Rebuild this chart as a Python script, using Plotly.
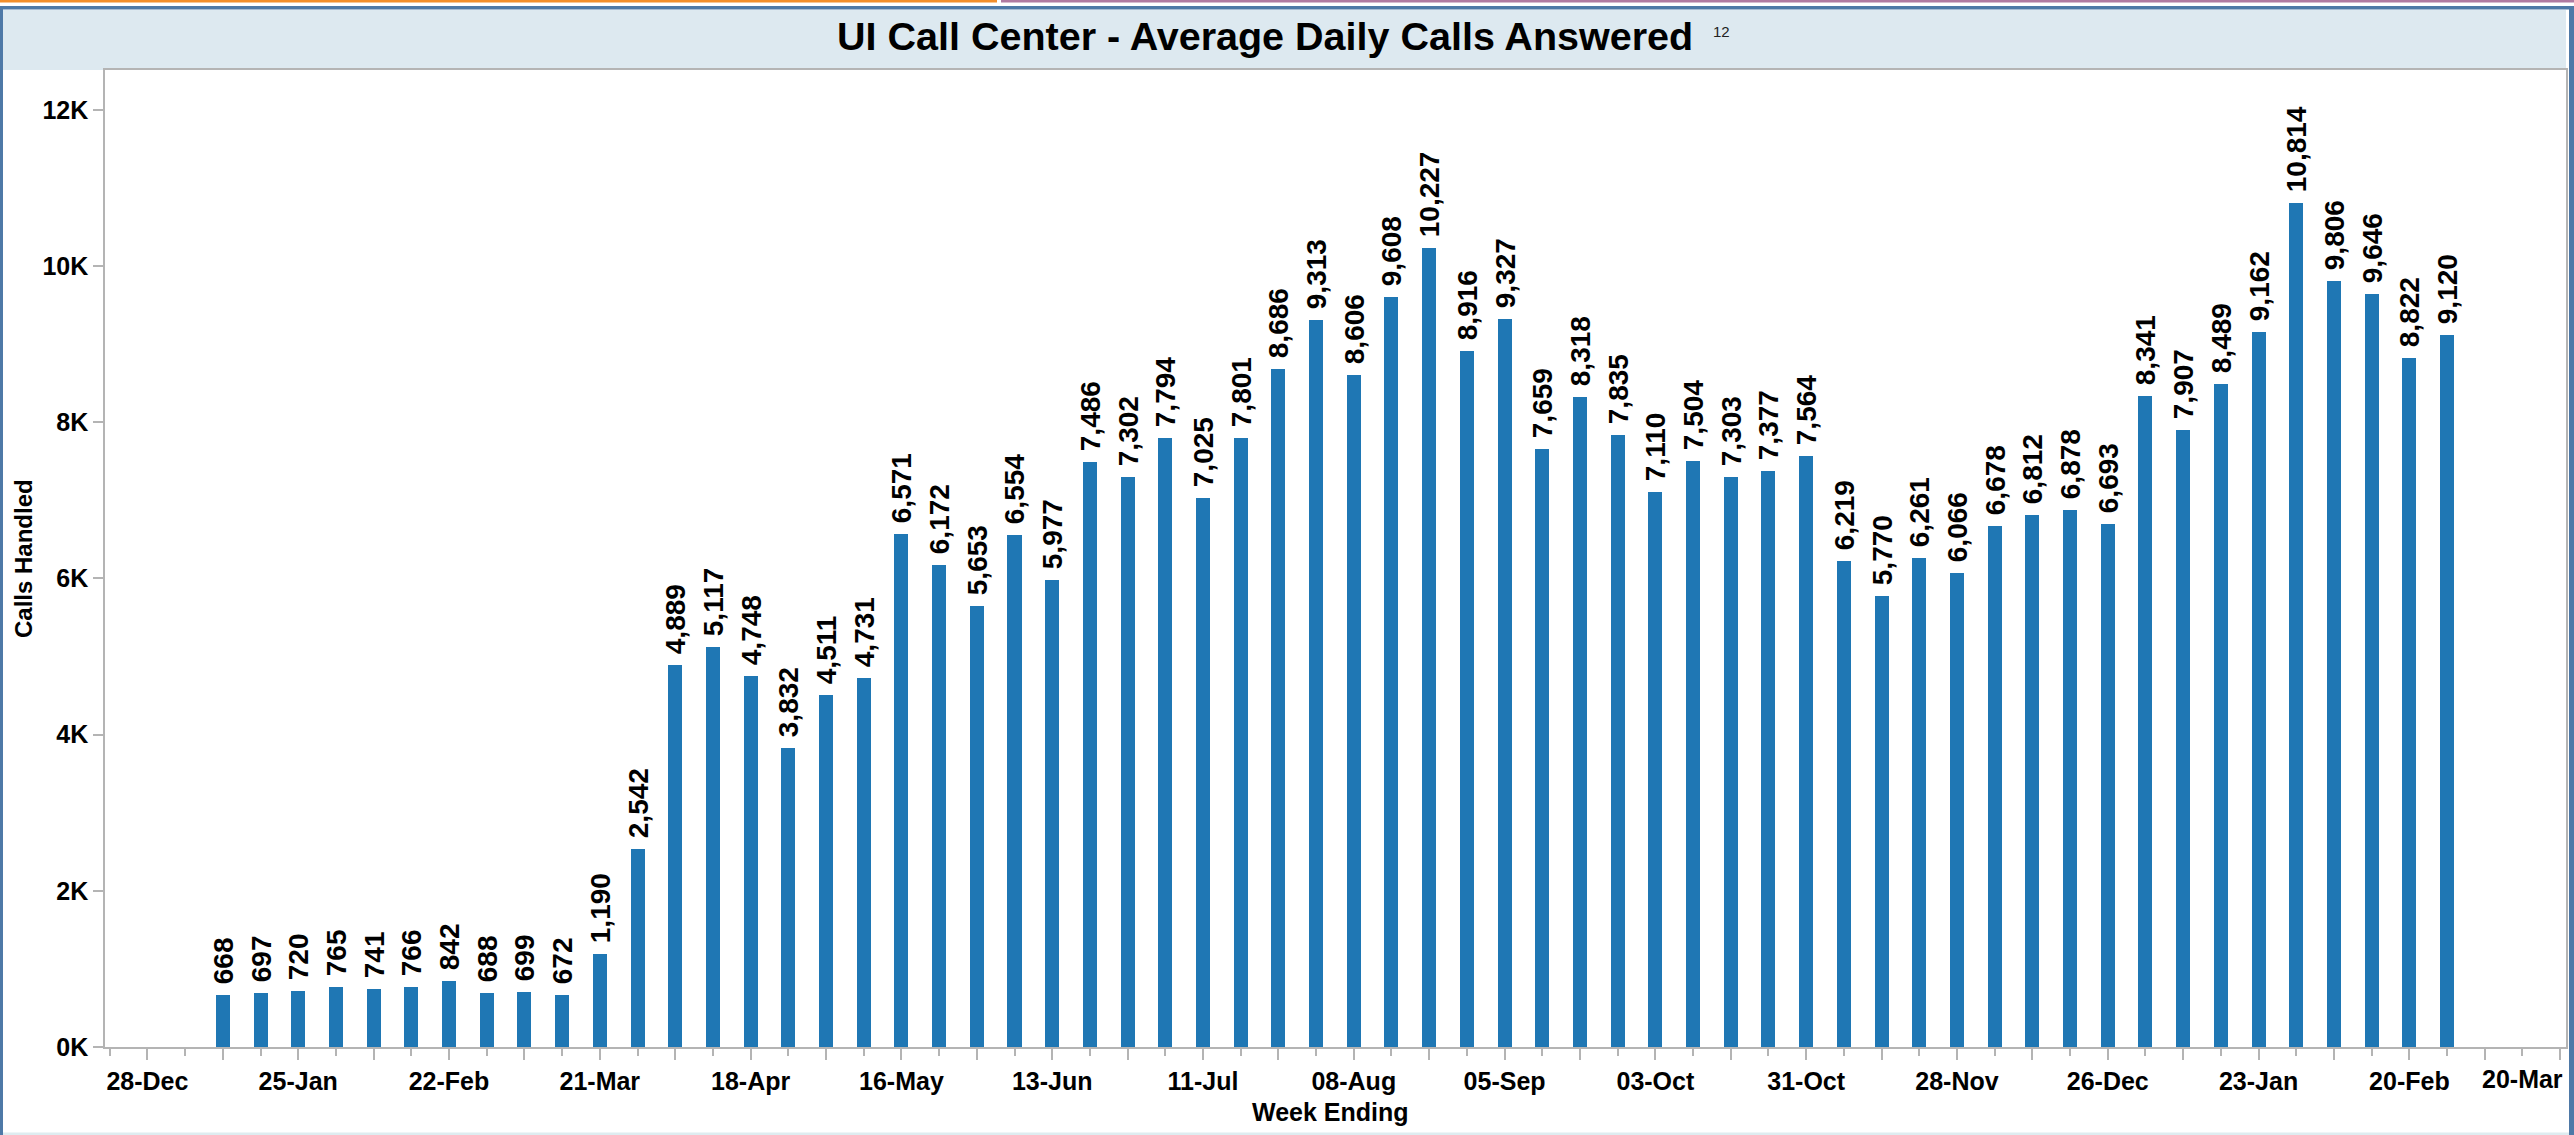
import plotly.graph_objects as go

# ---------------- data ----------------
WEEK_ENDING = [
    "2020-01-11", "2020-01-18", "2020-01-25", "2020-02-01", "2020-02-08", "2020-02-15",
    "2020-02-22", "2020-02-29", "2020-03-07", "2020-03-14", "2020-03-21", "2020-03-28",
    "2020-04-04", "2020-04-11", "2020-04-18", "2020-04-25", "2020-05-02", "2020-05-09",
    "2020-05-16", "2020-05-23", "2020-05-30", "2020-06-06", "2020-06-13", "2020-06-20",
    "2020-06-27", "2020-07-04", "2020-07-11", "2020-07-18", "2020-07-25", "2020-08-01",
    "2020-08-08", "2020-08-15", "2020-08-22", "2020-08-29", "2020-09-05", "2020-09-12",
    "2020-09-19", "2020-09-26", "2020-10-03", "2020-10-10", "2020-10-17", "2020-10-24",
    "2020-10-31", "2020-11-07", "2020-11-14", "2020-11-21", "2020-11-28", "2020-12-05",
    "2020-12-12", "2020-12-19", "2020-12-26", "2021-01-02", "2021-01-09", "2021-01-16",
    "2021-01-23", "2021-01-30", "2021-02-06", "2021-02-13", "2021-02-20", "2021-02-27",
]
CALLS_HANDLED = [
    668, 697, 720, 765, 741, 766, 842, 688, 699, 672, 1190, 2542,
    4889, 5117, 4748, 3832, 4511, 4731, 6571, 6172, 5653, 6554, 5977, 7486,
    7302, 7794, 7025, 7801, 8686, 9313, 8606, 9608, 10227, 8916, 9327, 7659,
    8318, 7835, 7110, 7504, 7303, 7377, 7564, 6219, 5770, 6261, 6066, 6678,
    6812, 6878, 6693, 8341, 7907, 8489, 9162, 10814, 9806, 9646, 8822, 9120,
]
# major (2-weekly) tick dates and their labels (labels every 4 weeks)
X_TICK_DATES = [
    "2019-12-28", "2020-01-11", "2020-01-25", "2020-02-08", "2020-02-22", "2020-03-07",
    "2020-03-21", "2020-04-04", "2020-04-18", "2020-05-02", "2020-05-16", "2020-05-30",
    "2020-06-13", "2020-06-27", "2020-07-11", "2020-07-25", "2020-08-08", "2020-08-22",
    "2020-09-05", "2020-09-19", "2020-10-03", "2020-10-17", "2020-10-31", "2020-11-14",
    "2020-11-28", "2020-12-12", "2020-12-26", "2021-01-09", "2021-01-23", "2021-02-06",
    "2021-02-20", "2021-03-06", "2021-03-20",
]
X_TICK_LABELS = [
    "28-Dec", "", "25-Jan", "", "22-Feb", "", "21-Mar", "", "18-Apr", "", "16-May", "",
    "13-Jun", "", "11-Jul", "", "08-Aug", "", "05-Sep", "", "03-Oct", "", "31-Oct", "",
    "28-Nov", "", "26-Dec", "", "23-Jan", "", "20-Feb", "", "",
]
# the last tick label sits against the right edge, so it is drawn as an annotation
LAST_TICK_DATE = "2021-03-20"
LAST_TICK_LABEL = "20-Mar"

Y_TICK_VALUES = [0, 2000, 4000, 6000, 8000, 10000, 12000]
Y_TICK_LABELS = ["0K", "2K", "4K", "6K", "8K", "10K", "12K"]

TITLE = "UI Call Center - Average Daily Calls Answered"

# ---------------- layout geometry (pixels) ----------------
W, H = 2574, 1135
L, R, T, B = 105, 2566, 70, 1047   # plot area edges
PW, PH = R - L, B - T


def px(xp):
    return (xp - L) / PW


def py(yp):
    return (B - yp) / PH


FONT = "Liberation Sans, Arial, Helvetica, sans-serif"
BAR = "#1f77b4"
AXC = "#b4b4b4"
DAY_MS = 86400000

fig = go.Figure()
fig.add_trace(go.Bar(
    x=WEEK_ENDING,
    y=CALLS_HANDLED,
    width=2.6 * DAY_MS,
    marker=dict(color=BAR, line=dict(width=0)),
    texttemplate="\u00a0%{y:,}",
    textposition="outside",
    textangle=-90,
    constraintext="none",
    cliponaxis=False,
    textfont=dict(family=FONT, size=28, color="black", weight="bold"),
    hovertemplate="%{x|%d-%b-%Y}: %{y:,}<extra></extra>",
))

shapes = [
    # title band
    dict(type="rect", xref="paper", yref="paper", x0=px(3), x1=px(R), y0=py(T), y1=py(10),
         fillcolor="rgb(221,233,240)", line=dict(width=0), layer="below"),
    # top orange / purple strips
    dict(type="rect", xref="paper", yref="paper", x0=px(0), x1=px(997), y0=py(2.5), y1=py(0),
         fillcolor="#f28e2b", line=dict(width=0)),
    dict(type="rect", xref="paper", yref="paper", x0=px(1001), x1=px(W), y0=py(2.5), y1=py(0),
         fillcolor="#b07aa1", line=dict(width=0)),
    # blue frame
    dict(type="rect", xref="paper", yref="paper", x0=px(0), x1=px(W), y0=py(9.5), y1=py(6),
         fillcolor="#4e79a7", line=dict(width=0)),
    dict(type="rect", xref="paper", yref="paper", x0=px(0), x1=px(3), y0=py(H), y1=py(6),
         fillcolor="#4e79a7", line=dict(width=0)),
    dict(type="rect", xref="paper", yref="paper", x0=px(2569), x1=px(W), y0=py(H), y1=py(6),
         fillcolor="#4e79a7", line=dict(width=0)),
    # faint bottom strip
    dict(type="rect", xref="paper", yref="paper", x0=px(3), x1=px(2569), y0=py(H), y1=py(1132.5),
         fillcolor="rgb(222,236,240)", line=dict(width=0)),
]

annotations = [
    dict(text=TITLE, xref="paper", yref="paper", x=px(1265), y=py(36),
         xanchor="center", yanchor="middle", showarrow=False,
         font=dict(family=FONT, size=39.5, color="black", weight="bold")),
    dict(text="12", xref="paper", yref="paper", x=px(1721), y=py(32),
         xanchor="center", yanchor="middle", showarrow=False,
         font=dict(family=FONT, size=15, color="#222222")),
    dict(text="Week Ending", xref="paper", yref="paper", x=px(1330), y=py(1112),
         xanchor="center", yanchor="middle", showarrow=False,
         font=dict(family=FONT, size=25, color="black", weight="bold")),
    dict(text="Calls Handled", xref="paper", yref="paper", x=px(23), y=py(558),
         xanchor="center", yanchor="middle", showarrow=False, textangle=-90,
         font=dict(family=FONT, size=24, color="black", weight="bold")),
    dict(text=LAST_TICK_LABEL, xref="x", yref="paper", x=LAST_TICK_DATE, y=py(1079),
         xanchor="right", yanchor="middle", xshift=5, showarrow=False,
         font=dict(family=FONT, size=25, color="black", weight="bold")),
]

fig.update_layout(
    width=W, height=H,
    margin=dict(l=L, r=W - R, t=T, b=H - B, pad=0),
    paper_bgcolor="white",
    plot_bgcolor="white",
    showlegend=False,
    bargap=0,
    shapes=shapes,
    annotations=annotations,
    font=dict(family=FONT, color="black"),
    xaxis=dict(
        type="date",
        range=["2019-12-20 03:00", "2021-03-21 02:00"],
        tickmode="array",
        tickvals=X_TICK_DATES,
        ticktext=X_TICK_LABELS,
        ticks="outside", ticklen=11, tickwidth=1.5, tickcolor=AXC,
        minor=dict(tickmode="linear", tick0="2019-12-28", dtick=7 * DAY_MS,
                   ticks="outside", ticklen=7, tickwidth=1.5, tickcolor=AXC, showgrid=False),
        tickfont=dict(family=FONT, size=25, color="black", weight="bold"),
        showline=True, linecolor=AXC, linewidth=1.5, mirror=True,
        showgrid=False, zeroline=False, automargin=False, fixedrange=True,
    ),
    yaxis=dict(
        range=[0, 12512],
        tickmode="array",
        tickvals=Y_TICK_VALUES,
        ticktext=Y_TICK_LABELS,
        ticks="outside", ticklen=10, tickwidth=1.5, tickcolor=AXC,
        tickfont=dict(family=FONT, size=25, color="black", weight="bold"),
        showline=True, linecolor=AXC, linewidth=1.5, mirror=True,
        showgrid=False, zeroline=False, automargin=False, fixedrange=True,
    ),
)

fig.write_html(
    "out.html",
    config={"displayModeBar": False},
    post_script="document.body.style.margin='0';document.body.style.overflow='hidden';",
)
